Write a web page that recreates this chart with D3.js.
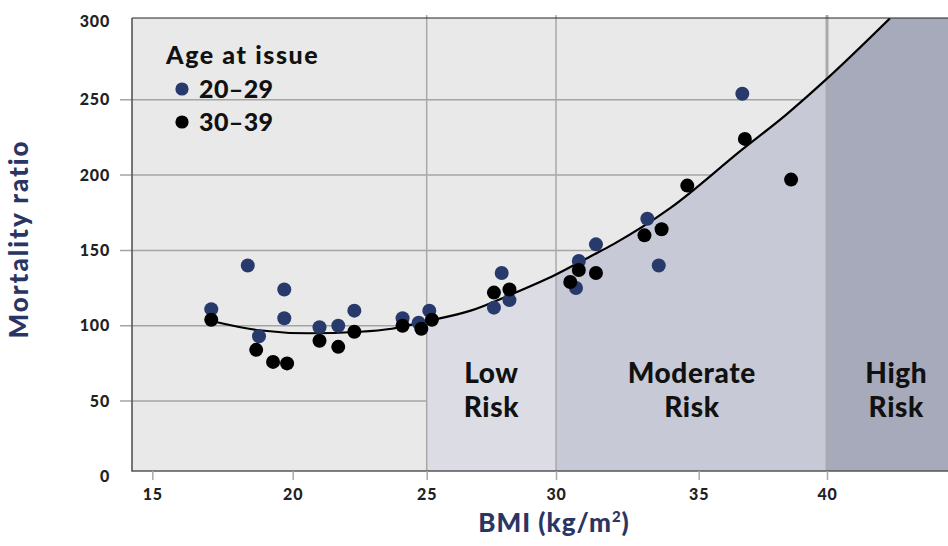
<!DOCTYPE html>
<html>
<head>
<meta charset="utf-8">
<script src="https://cdnjs.cloudflare.com/ajax/libs/d3/7.8.5/d3.min.js"></script>
<style>
	body { margin: 0; background: #fff; }
	svg { display: block; font-family: 'Lato', 'Open Sans', sans-serif; font-weight: 900; }
</style>
</head>
<body>
<svg id="chart" width="948" height="546"></svg>
<script>
	// values
	var blueBmi   = [17.1, 18.4, 18.8, 19.7, 19.7, 21.0, 21.7, 22.3, 24.1, 24.7, 25.1, 27.6, 27.9, 28.2, 30.7, 30.8, 31.4, 33.2, 33.6, 36.7];
	var blueRatio = [111, 140, 93, 124, 105, 99, 100, 110, 105, 102, 110, 112, 135, 117, 125, 143, 154, 171, 140, 254];

	var blackBmi   = [17.1, 18.7, 19.3, 19.8, 21.0, 21.7, 22.3, 24.1, 24.8, 25.2, 27.6, 28.2, 30.5, 30.8, 31.4, 33.1, 33.7, 34.6, 36.8, 38.6];
	var blackRatio = [104, 84, 76, 75, 90, 86, 96, 100, 98, 104, 122, 124, 129, 137, 135, 160, 164, 193, 224, 197];

	// fitted curve, read at a few points
	var curveBmi   = [17.15, 18.8, 20.6, 22.5, 23.7, 25.0, 26.7, 28.3, 30.0, 31.2, 32.0, 34.0, 36.7, 38.4, 40.0, 42.45];
	var curveRatio = [103, 97, 95, 96, 98, 103, 110, 121, 134, 146, 154, 178, 217, 240, 264, 304];

	var xTicks = [15, 20, 25, 30, 35, 40];
	var yTicks = [0, 50, 100, 150, 200, 250, 300];
	var gridY = [50, 100, 150, 200, 250];
	var zoneEdges = [25, 30, 40];
	var zoneNames = [['Low', 'Risk'], ['Moderate', 'Risk'], ['High', 'Risk']];
	var zoneLabelBmi = [27.5, 34.76, 42.7];
	var zoneColors = ['#dcdde4', '#c7c9d6', '#a6aabb'];
	var legendLabels = ['20–29', '30–39'];

	var blue = '#283a6c';
	var navy = '#2a3564';

	// note: not "top", that one belongs to window
	var plotL = 132, plotR = 948, plotT = 18, plotB = 471;

	var svg = d3.select('#chart');

	// tick marks in the picture are not evenly spaced, so the scale is piecewise
	var x = d3.scaleLinear()
		.domain(xTicks)
		.range([152.3, 292.7, 426.7, 556, 698.7, 827]);

	var y = d3.scaleLinear()
		.domain([0, 300])
		.range([476.4, 24.4]);

	var blues = blueBmi.map(function(b, i){ return { bmi: b, ratio: blueRatio[i] }; });
	var blacks = blackBmi.map(function(b, i){ return { bmi: b, ratio: blackRatio[i] }; });
	var curvePts = curveBmi.map(function(b, i){ return { bmi: b, ratio: curveRatio[i] }; });

	var defs = svg.append('defs');
	defs.append('clipPath').attr('id', 'plot')
		.append('rect')
		.attr('x', plotL).attr('y', plotT)
		.attr('width', plotR - plotL).attr('height', plotB - plotT);

	var area = d3.area()
		.x(function(d){ return x(d.bmi); })
		.y0(plotB)
		.y1(function(d){ return y(d.ratio); })
		.curve(d3.curveMonotoneX);

	var line = d3.line()
		.x(function(d){ return x(d.bmi); })
		.y(function(d){ return y(d.ratio); })
		.curve(d3.curveMonotoneX);

	var under = defs.append('clipPath').attr('id', 'under');
	under.append('path').attr('d', area(curvePts));
	under.append('rect')
		.attr('x', x(curveBmi[curveBmi.length - 1]) - 0.5)
		.attr('y', plotT)
		.attr('width', plotR)
		.attr('height', plotB - plotT);

	// background
	svg.append('rect')
		.attr('x', plotL).attr('y', plotT)
		.attr('width', plotR - plotL).attr('height', plotB - plotT)
		.attr('fill', '#e9e9e9');

	// horizontal grid (with the little stubs left of the frame)
	svg.append('g').selectAll('line')
		.data(gridY)
		.enter()
		.append('line')
		.attr('x1', 120).attr('x2', plotR)
		.attr('y1', function(d){ return y(d); })
		.attr('y2', function(d){ return y(d); })
		.attr('stroke', '#a4a4a4')
		.attr('stroke-width', 1.5);

	// risk zones under the curve
	var zoneData = zoneEdges.map(function(e, i){
		return {
			from: e,
			to: i < zoneEdges.length - 1 ? zoneEdges[i + 1] : x.invert(plotR),
			color: zoneColors[i],
			name: zoneNames[i],
			labelAt: zoneLabelBmi[i]
		};
	});

	svg.append('g')
		.attr('clip-path', 'url(#under)')
		.selectAll('rect')
		.data(zoneData)
		.enter()
		.append('rect')
		.attr('x', function(d){ return x(d.from); })
		.attr('y', plotT)
		.attr('width', function(d){ return x(d.to) - x(d.from); })
		.attr('height', plotB - plotT)
		.attr('fill', function(d){ return d.color; });

	// vertical zone lines
	svg.append('g').selectAll('line')
		.data(zoneEdges)
		.enter()
		.append('line')
		.attr('x1', function(d){ return x(d); })
		.attr('x2', function(d){ return x(d); })
		.attr('y1', 15).attr('y2', plotB)
		.attr('stroke', function(d, i){ return i == 2 ? '#a9aaae' : '#a8a8a8'; })
		.attr('stroke-width', function(d, i){ return i == 2 ? 3 : 1.5; });

	// zone labels
	zoneData.forEach(function(z){
		var t = svg.append('text')
			.attr('x', x(z.labelAt))
			.attr('y', y(62))
			.attr('text-anchor', 'middle')
			.attr('font-size', 28)
			.attr('letter-spacing', 0.6)
			.attr('fill', '#111');
		z.name.forEach(function(w, i){
			t.append('tspan')
				.attr('x', x(z.labelAt))
				.attr('dy', i == 0 ? 0 : 34)
				.text(w);
		});
	});

	// fitted curve
	svg.append('path')
		.attr('clip-path', 'url(#plot)')
		.attr('d', line(curvePts))
		.attr('fill', 'none')
		.attr('stroke', '#000')
		.attr('stroke-width', 2.2);

	// points
	svg.append('g').selectAll('circle')
		.data(blues)
		.enter()
		.append('circle')
		.attr('cx', function(d){ return x(d.bmi); })
		.attr('cy', function(d){ return y(d.ratio); })
		.attr('r', 7)
		.attr('fill', blue);

	svg.append('g').selectAll('circle')
		.data(blacks)
		.enter()
		.append('circle')
		.attr('cx', function(d){ return x(d.bmi); })
		.attr('cy', function(d){ return y(d.ratio); })
		.attr('r', 7)
		.attr('fill', '#000');

	// frame
	svg.append('line')
		.attr('x1', plotL).attr('x2', plotR).attr('y1', plotT).attr('y2', plotT)
		.attr('stroke', '#222').attr('stroke-width', 1.2);
	svg.append('path')
		.attr('d', 'M' + plotL + ',' + plotT + 'V' + plotB + 'H' + plotR)
		.attr('fill', 'none')
		.attr('stroke', '#555')
		.attr('stroke-width', 1.6);

	// x axis
	var xAxis = svg.append('g')
		.attr('transform', 'translate(0,' + plotB + ')')
		.call(d3.axisBottom(x).tickValues(xTicks).tickSize(9).tickPadding(9));
	xAxis.attr('font-family', null).attr('font-size', null);
	xAxis.select('.domain').remove();
	xAxis.selectAll('line').attr('stroke', '#aaa').attr('stroke-width', 1.5);
	xAxis.selectAll('text')
		.attr('font-size', 16)
		.attr('letter-spacing', 0.8)
		.attr('fill', '#222');

	// y axis labels
	var yAxis = svg.append('g')
		.attr('transform', 'translate(' + (plotL - 22) + ',0)')
		.call(d3.axisLeft(y).tickValues(yTicks).tickSize(0).tickPadding(0));
	yAxis.attr('font-family', null).attr('font-size', null);
	yAxis.select('.domain').remove();
	yAxis.selectAll('text')
		.attr('font-size', 16)
		.attr('letter-spacing', 0.8)
		.attr('fill', '#222');
	yAxis.select('.tick:last-of-type text').attr('dy', '0.1em');

	// axis titles
	svg.append('text')
		.attr('transform', 'translate(28,239) rotate(-90)')
		.attr('text-anchor', 'middle')
		.attr('font-size', 26)
		.attr('letter-spacing', 2)
		.attr('fill', navy)
		.text('Mortality ratio');

	var xt = svg.append('text')
		.attr('x', 554)
		.attr('y', 532)
		.attr('text-anchor', 'middle')
		.attr('font-size', 26)
		.attr('letter-spacing', 1)
		.attr('fill', navy);
	xt.append('tspan').text('BMI (kg/m');
	xt.append('tspan').attr('font-size', 15).attr('dy', -10).text('2');
	xt.append('tspan').attr('dy', 10).text(')');

	// legend
	svg.append('text')
		.attr('x', 166).attr('y', 64)
		.attr('font-size', 25)
		.attr('letter-spacing', 1.6)
		.attr('fill', '#111')
		.text('Age at issue');

	var legend = svg.append('g').selectAll('g')
		.data(legendLabels)
		.enter()
		.append('g')
		.attr('transform', function(d, i){ return 'translate(182,' + (89 + i * 33) + ')'; });
	legend.append('circle')
		.attr('r', 6.6)
		.attr('fill', function(d, i){ return i == 0 ? blue : '#000'; });
	legend.append('text')
		.attr('x', 17)
		.attr('y', 9)
		.attr('font-size', 25)
		.attr('letter-spacing', 0.4)
		.attr('fill', '#111')
		.text(function(d){ return d; });
</script>
</body>
</html>
